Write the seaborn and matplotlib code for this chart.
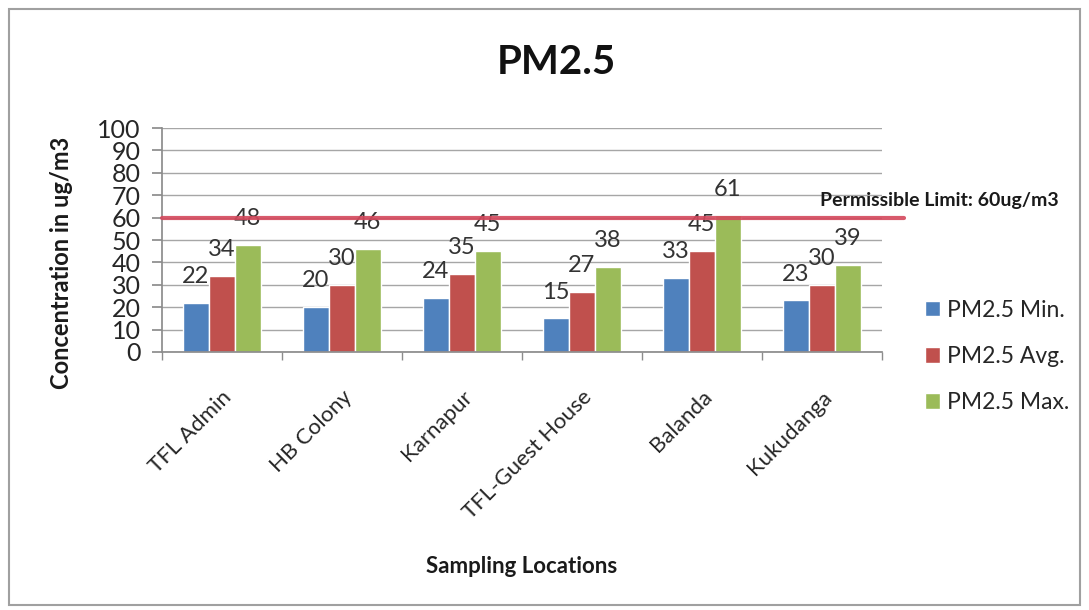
import pandas as pd
import numpy as np
import matplotlib.pyplot as plt
import seaborn as sns
from matplotlib.patches import Rectangle

sns.set_theme(style="white")
plt.rcParams["font.family"] = ["Lato", "DejaVu Sans"]

# data
locations = ["TFL Admin", "HB Colony", "Karnapur", "TFL-Guest House", "Balanda", "Kukudanga"]
pm_min = [22, 20, 24, 15, 33, 23]
pm_avg = [34, 30, 35, 27, 45, 30]
pm_max = [48, 46, 45, 38, 61, 39]
series = ["PM2.5 Min.", "PM2.5 Avg.", "PM2.5 Max."]
limit = 60
colors = ["#4F81BD", "#C0504D", "#9BBB59"]

df = pd.DataFrame({
    "location": locations * 3,
    "value": pm_min + pm_avg + pm_max,
    "series": np.repeat(series, len(locations)),
})

fig = plt.figure(figsize=(10.89, 6.10), dpi=100)
ax = fig.add_axes([0.1485, 0.423, 0.661, 0.367])

sns.barplot(data=df, x="location", y="value", hue="series", palette=colors,
            width=0.65, saturation=1, ax=ax, gap=0)

ax.set_ylim(0, 100)
ax.set_xlim(-0.5, len(locations) - 0.5)
ax.set_yticks(range(0, 101, 10))
ax.yaxis.grid(True, color="#a6a6a6", lw=1)
ax.set_axisbelow(True)
for s in ["top", "right"]:
    ax.spines[s].set_visible(False)
for s in ["left", "bottom"]:
    ax.spines[s].set_color("#8c8c8c")
ax.tick_params(axis="y", labelsize=18, length=7, color="#8c8c8c", left=True, pad=8,
               labelcolor="#262626")
ax.set_xticks(np.arange(len(locations)))
ax.set_xticklabels(locations, rotation=45, ha="right", rotation_mode="anchor", fontsize=16)
ax.tick_params(axis="x", length=0, pad=25, labelcolor="#262626")
# category boundary ticks
ax.set_xticks(np.arange(len(locations) + 1) - 0.5, minor=True)
ax.tick_params(axis="x", which="minor", length=6, color="#8c8c8c", bottom=True)

# value labels
for cont in ax.containers:
    for bar in cont:
        h = bar.get_height()
        ax.annotate(f"{h:.0f}", (bar.get_x() + bar.get_width() / 2, h),
                    xytext=(0, 19), textcoords="offset points",
                    ha="center", va="center", fontsize=17, color="#333333")

# permissible limit line
ax.plot([-0.5, 5.69], [limit, limit], color="#d4485c", lw=3, alpha=0.9,
        clip_on=False, zorder=3)
ax.annotate(f"Permissible Limit: {limit}ug/m3", (5.69, limit), xytext=(-61, 12.5),
            textcoords="offset points", ha="left", va="center",
            fontsize=14, fontweight="bold", color="#1a1a1a", annotation_clip=False)

fig.text(0.511, 0.898, "PM2.5", fontsize=29, fontweight="bold", ha="center",
         va="center", color="#111111")
ax.set_xlabel("Sampling Locations", fontsize=16, fontweight="bold", color="#1a1a1a")
ax.xaxis.label.set_va("center")
ax.xaxis.set_label_coords(0.50, -0.96)
ax.set_ylabel("Concentration in ug/m3", fontsize=17, fontweight="bold", color="#1a1a1a")
ax.yaxis.label.set_va("center")
ax.yaxis.set_label_coords(-0.139, 0.40)

handles, labels = ax.get_legend_handles_labels()
ax.legend(handles, labels, loc="center left", bbox_to_anchor=(1.061, -0.02),
          frameon=False, fontsize=16.5, handlelength=0.65, handleheight=0.65,
          handletextpad=0.3, labelspacing=1.1, borderpad=0, borderaxespad=0,
          labelcolor="#262626")

fig.patches.append(Rectangle((0.008, 0.008), 0.984, 0.978, transform=fig.transFigure,
                             fill=False, edgecolor="#a0a0a0", lw=1.5))

fig.savefig("out.png", dpi=100)
